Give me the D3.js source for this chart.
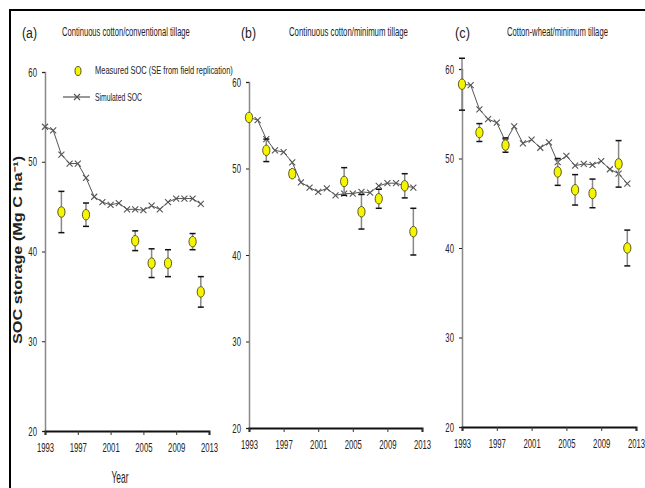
<!DOCTYPE html>
<html>
<head>
    <script src="https://d3js.org/d3.v7.min.js"></script>
    <style>
        body { margin: 0; background: #fff; }
        text { font-family: "Liberation Sans", Arial, sans-serif; fill: #222; }
    </style>
</head>
<body>
<div id="chart"></div>

<script>
    // simulated SOC, one value per year
    var years = [1993, 1994, 1995, 1996, 1997, 1998, 1999, 2000, 2001, 2002,
                 2003, 2004, 2005, 2006, 2007, 2008, 2009, 2010, 2011, 2012];
    var simA = [53.9, 53.5, 50.8, 49.8, 49.8, 48.2, 46.1, 45.5, 45.2, 45.4,
                44.7, 44.7, 44.6, 45.1, 44.7, 45.5, 45.9, 45.9, 45.9, 45.3];
    var simB = [55.9, 55.6, 53.4, 52.1, 51.9, 50.7, 48.4, 47.8, 47.3, 47.7,
                46.9, 47.1, 47.1, 47.3, 47.2, 48.0, 48.3, 48.3, 48.0, 47.8];
    var simC = [58.3, 58.2, 55.5, 54.4, 54.0, 51.9, 53.6, 51.7, 52.1, 51.2,
                51.8, 49.6, 50.3, 49.2, 49.4, 49.3, 49.7, 48.8, 48.3, 47.2];

    // measured SOC with SE
    var measYearsA = [1995, 1998, 2004, 2006, 2008, 2011, 2012];
    var measA = [44.4, 44.1, 41.2, 38.7, 38.7, 41.1, 35.5];
    var seA = [2.3, 1.3, 1.1, 1.6, 1.5, 0.9, 1.7];
    var measYearsB = [1993, 1995, 1998, 2004, 2006, 2008, 2011, 2012];
    var measB = [55.9, 52.1, 49.4, 48.5, 45.0, 46.5, 48.0, 42.7];
    var seB = [0.3, 1.3, 0.4, 1.6, 2.0, 1.1, 1.4, 2.7];
    var measYearsC = [1993, 1995, 1998, 2004, 2006, 2008, 2011, 2012];
    var measC = [58.3, 52.9, 51.5, 48.5, 46.5, 46.1, 49.4, 40.0];
    var seC = [2.9, 1.0, 0.8, 1.5, 1.7, 1.6, 2.6, 2.0];

    var xTicks = [1993, 1997, 2001, 2005, 2009, 2013];
    var yTicks = [20, 30, 40, 50, 60];
    var panelLabels = ["(a)", "(b)", "(c)"];
    var panelTitles = ["Continuous cotton/conventional tillage",
                       "Continuous cotton/minimum tillage",
                       "Cotton-wheat/minimum tillage"];

    var width = 645, height = 488;

    var svg = d3.select("#chart")
        .append("svg")
        .attr("width", width)
        .attr("height", height);

    // outer frame
    svg.append("rect")
        .attr("x", 10).attr("y", 10)
        .attr("width", 650).attr("height", 500)
        .attr("fill", "none").attr("stroke", "#000").attr("stroke-width", 2);

    // squeeze a text horizontally so it spans w pixels (the source font is a narrow one)
    function fitText(t, x, y, w, rot) {
        var len = t.node().getComputedTextLength();
        t.attr("transform", "translate(" + x + "," + y + ")" + (rot ? " rotate(" + rot + ")" : "") +
               " scale(" + (w / len) + ",1)");
        return t;
    }

    var panels = [
        { sim: simA, my: measYearsA, m: measA, se: seA, x0: 45, x1: 209, yb: 431, yt: 72,
          lx: 22, tx: 62, tw: 128 },
        { sim: simB, my: measYearsB, m: measB, se: seB, x0: 249, x1: 422, yb: 428, yt: 82,
          lx: 241, tx: 289, tw: 119 },
        { sim: simC, my: measYearsC, m: measC, se: seC, x0: 462, x1: 636, yb: 427, yt: 69,
          lx: 455, tx: 507, tw: 101 }
    ];

    function xMark(g, cx, cy, r) {
        g.append("path")
            .attr("d", "M" + (cx - r) + "," + (cy - r) + "L" + (cx + r) + "," + (cy + r) +
                       "M" + (cx - r) + "," + (cy + r) + "L" + (cx + r) + "," + (cy - r))
            .attr("stroke", "#555").attr("stroke-width", 1.1).attr("fill", "none");
    }

    panels.forEach(function(p, i) {
        var x = d3.scaleLinear().domain([1993, 2013]).range([p.x0, p.x1]);
        var y = d3.scaleLinear().domain([20, 60]).range([p.yb, p.yt]);
        var g = svg.append("g");

        // y axis
        var yAxis = g.append("g")
            .attr("transform", "translate(" + p.x0 + ",0)")
            .call(d3.axisLeft(y).tickValues(yTicks).tickSize(3).tickPadding(10));
        yAxis.select(".domain").attr("stroke", "#888").attr("stroke-width", 1.5);
        yAxis.selectAll(".tick line").attr("stroke", "#222");
        yAxis.selectAll("text").style("font-size", "12.5px").attr("fill", "#333")
            .attr("transform", "scale(0.62,1)");

        // x axis
        var xAxis = g.append("g")
            .attr("transform", "translate(0," + p.yb + ")")
            .call(d3.axisBottom(x).tickValues(xTicks).tickFormat(d3.format("d"))
                  .tickSizeOuter(0).tickSize(4).tickPadding(8));
        xAxis.select(".domain").attr("stroke", "#111").attr("stroke-width", 2);
        xAxis.selectAll(".tick line").attr("stroke", "#333");
        xAxis.selectAll("text").style("font-size", "12.5px").attr("fill", "#333")
            .attr("transform", "scale(0.62,1)");

        // panel label and title
        fitText(g.append("text").style("font-size", "15px").text(panelLabels[i]),
                p.lx, 38, 15);
        fitText(g.append("text").style("font-size", "12.5px").text(panelTitles[i]),
                p.tx, 36, p.tw);

        // simulated line
        var line = d3.line()
            .x(function(d, j) { return x(years[j]); })
            .y(function(d) { return y(d); });
        g.append("path").datum(p.sim)
            .attr("d", line)
            .attr("fill", "none").attr("stroke", "#555").attr("stroke-width", 1);
        p.sim.forEach(function(v, j) { xMark(g, x(years[j]), y(v), 3); });

        // measured points with SE bars
        p.m.forEach(function(v, j) {
            var cx = x(p.my[j]);
            var top = y(v + p.se[j]), bot = y(v - p.se[j]);
            g.append("line").attr("x1", cx).attr("x2", cx).attr("y1", top).attr("y2", bot)
                .attr("stroke", "#888").attr("stroke-width", 1.5);
            [top, bot].forEach(function(yy) {
                g.append("line").attr("x1", cx - 3).attr("x2", cx + 3).attr("y1", yy).attr("y2", yy)
                    .attr("stroke", "#111").attr("stroke-width", 1.5);
            });
            g.append("ellipse").attr("cx", cx).attr("cy", y(v))
                .attr("rx", 3.6).attr("ry", 5.3)
                .attr("fill", "#f5f500").attr("stroke", "#5a5a20").attr("stroke-width", 1);
        });
    });

    // legend (panel a)
    var leg = svg.append("g");
    leg.append("ellipse").attr("cx", 78).attr("cy", 71).attr("rx", 3).attr("ry", 4.5)
        .attr("fill", "#f5f500").attr("stroke", "#5a5a20");
    fitText(leg.append("text").style("font-size", "11px")
            .text("Measured SOC (SE from field replication)"), 95, 74, 138);
    leg.append("line").attr("x1", 63).attr("x2", 90).attr("y1", 97).attr("y2", 97)
        .attr("stroke", "#333").attr("stroke-width", 1);
    xMark(leg, 77, 97, 3);
    fitText(leg.append("text").style("font-size", "11px").text("Simulated SOC"), 95, 101, 47);

    // axis titles
    fitText(svg.append("text")
        .attr("text-anchor", "middle")
        .style("font-size", "12px").style("font-weight", "bold").attr("fill", "#555")
        .text("SOC storage (Mg C ha\u207B\u00B9)"), 22, 250, 188, -90);
    fitText(svg.append("text").attr("text-anchor", "middle")
        .style("font-size", "16px").attr("fill", "#333").text("Year"), 120, 483, 17);
</script>
</body>
</html>
